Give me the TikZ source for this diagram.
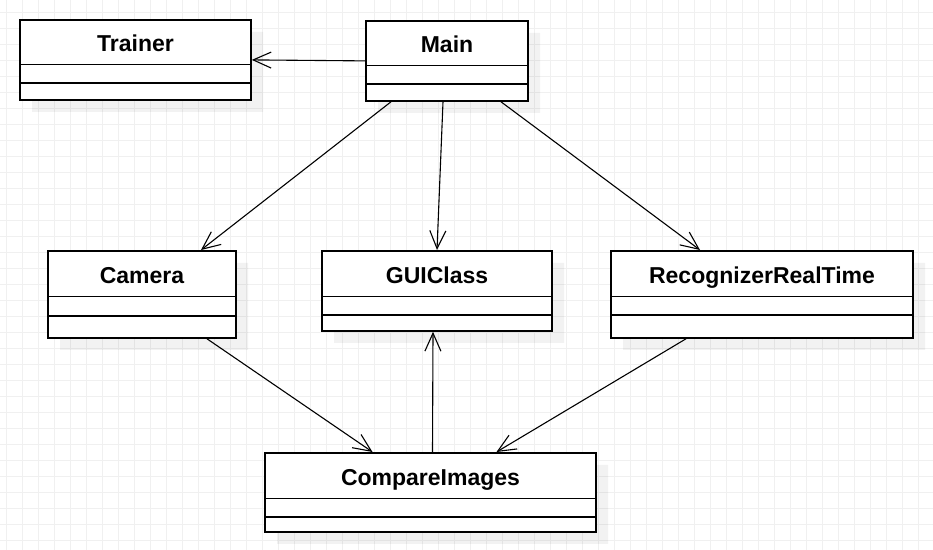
\documentclass[tikz,border=0pt]{standalone}
\usepackage{fontspec}
\setmainfont{Liberation Sans}
\usetikzlibrary{arrows.meta,shapes.multipart,shadows}

\tikzset{
  classbox/.style={draw, line width=1.7pt, fill=white, rectangle split, rectangle split parts=3,
    inner xsep=4pt, inner ysep=0pt, anchor=north,
    font=\fontsize{23}{28}\selectfont\bfseries,
    drop shadow={shadow xshift=12pt, shadow yshift=-12pt, fill=black, opacity=0.05}},
  assoc/.style={->, >={Straight Barb[length=18pt,width=16pt]}, line width=1.1pt},
  gridline/.style={draw=black!6, line width=0.8pt, step=16pt}
}

\begin{document}
\begin{tikzpicture}[x=1pt,y=1pt]
\useasboundingbox (0,0) rectangle (933,549);
\fill[white] (0,0) rectangle (933,549);
\begin{scope}
\clip (0,0) rectangle (933,549);
\draw[gridline, xshift=6.3pt, yshift=8.3pt] (-16,-16) grid (944,560);
\end{scope}

\node[classbox, minimum width=231pt] (trainer) at (135.5,530)
{\rule[-12pt]{0pt}{43pt}Trainer\nodepart{two}\rule{0pt}{17pt}\nodepart{three}\rule{0pt}{15pt}};

\node[classbox, minimum width=162pt] (main) at (447,529)
{\rule[-12pt]{0pt}{43pt}Main\nodepart{two}\rule{0pt}{17pt}\nodepart{three}\rule{0pt}{15pt}};

\node[classbox, minimum width=188pt] (camera) at (142,299)
{\rule[-12pt]{0pt}{44pt}Camera\nodepart{two}\rule{0pt}{18pt}\nodepart{three}\rule{0pt}{20pt}};

\node[classbox, minimum width=230pt] (gui) at (437,299)
{\rule[-12pt]{0pt}{44pt}GUIClass\nodepart{two}\rule{0pt}{17pt}\nodepart{three}\rule{0pt}{14pt}};

\node[classbox, minimum width=302pt] (recog) at (762,299)
{\rule[-12pt]{0pt}{44pt}RecognizerRealTime\nodepart{two}\rule{0pt}{17pt}\nodepart{three}\rule{0pt}{21pt}};

\node[classbox, minimum width=331pt] (compare) at (430.5,97)
{\rule[-12pt]{0pt}{44pt}CompareImages\nodepart{two}\rule{0pt}{17pt}\nodepart{three}\rule{0pt}{13pt}};

\draw[assoc] (main.west) -- (trainer.east);

\draw[assoc] ([xshift=-56pt]main.south) -- ([xshift=59pt]camera.north);

\draw[assoc] ([xshift=-4pt]main.south) -- (gui.north);

\draw[assoc] ([xshift=54pt]main.south) -- ([xshift=-62pt]recog.north);

\draw[assoc] ([xshift=65pt]camera.south) -- ([xshift=-58pt]compare.north);

\draw[assoc] ([xshift=-76pt]recog.south) -- ([xshift=66pt]compare.north);

\draw[assoc] ([xshift=2pt]compare.north) -- ([xshift=-4pt]gui.south);
\end{tikzpicture}
\end{document}
